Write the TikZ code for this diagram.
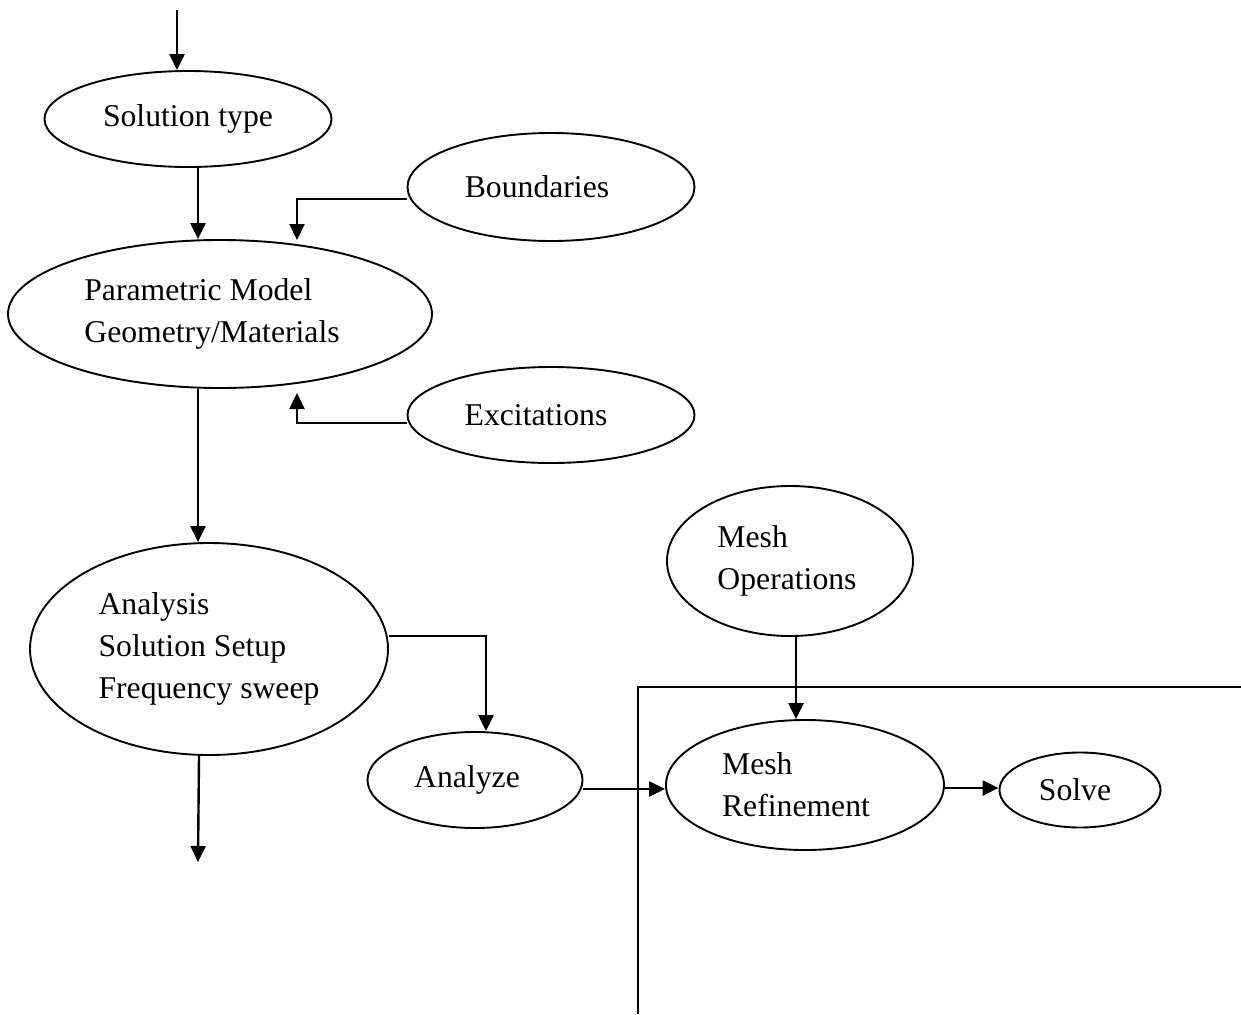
\documentclass[tikz,border=0pt]{standalone}
\usepackage{fontspec}
\setmainfont{Liberation Serif}
\usetikzlibrary{shapes.geometric,arrows.meta}
\newcommand\xsh[1]{\hspace*{#1}}
\begin{document}
\begin{tikzpicture}[x=1pt,y=-1pt,
  ell/.style={draw,ellipse,line width=1.9pt,inner sep=0pt,align=left,font=\fontsize{31.7}{42}\selectfont},
  conn/.style={line width=2.4pt,-{Triangle[length=16pt,width=15pt]}},
  frame/.style={line width=2.4pt}]
\useasboundingbox (0,0) rectangle (1241,1014);
\node[ell,minimum width=287pt,minimum height=96pt] (sol) at (188,119) {Solution type};
\node[ell,minimum width=287pt,minimum height=108pt] (bnd) at (551,187) {\xsh{-28pt}Boundaries};
\node[ell,minimum width=424pt,minimum height=148pt] (par) at (220,314) {\xsh{-16pt}Parametric Model\\\xsh{-16pt}Geometry/Materials};
\node[ell,minimum width=287pt,minimum height=96pt] (exc) at (551,415) {\xsh{-30pt}Excitations};
\node[ell,minimum width=358pt,minimum height=212pt] (ana) at (209,649) {Analysis\\Solution Setup\\Frequency sweep};
\node[ell,minimum width=215pt,minimum height=96pt] (anz) at (475,780) {\xsh{-16pt}Analyze};
\node[ell,minimum width=246pt,minimum height=150pt] (mop) at (790,561) {\xsh{-6pt}Mesh\\\xsh{-6pt}Operations};
\node[ell,minimum width=278pt,minimum height=130pt] (mref) at (805,785) {\xsh{-18pt}Mesh\\\xsh{-18pt}Refinement};
\node[ell,minimum width=161pt,minimum height=75pt] (slv) at (1080,790) {\xsh{-10pt}Solve};
\coordinate (top) at (177,10);
\coordinate (bin) at (297,240);
\coordinate (ein) at (297,393);
\coordinate (out) at (198,862);
\draw[conn] (top) -- (top |- sol.north);
\draw[conn] ([xshift=10pt]sol.south) -- ([xshift=10pt]sol.south |- par.north);
\draw[conn] ([yshift=-12pt]bnd.west) -| (bin);
\draw[conn] ([yshift=-8pt]exc.west) -| (ein);
\draw[conn] ([xshift=-22pt]par.south) -- ([xshift=-22pt]par.south |- ana.north);
\draw[conn] ([xshift=-10pt]ana.south) -- (out);
\draw[conn] ([yshift=13pt]ana.east) -| ([xshift=11pt]anz.north);
\draw[conn] ([yshift=-9pt]anz.east) -- ([yshift=-9pt]anz.east -| mref.west);
\draw[conn] ([xshift=6pt]mop.south) -- ([xshift=6pt]mop.south |- mref.north);
\draw[conn] ([yshift=-3pt]mref.east) -- ([yshift=-3pt]mref.east -| slv.west);
\draw[frame] (638,1014) -- (638,687) -- (1241,687);
\end{tikzpicture}
\end{document}
